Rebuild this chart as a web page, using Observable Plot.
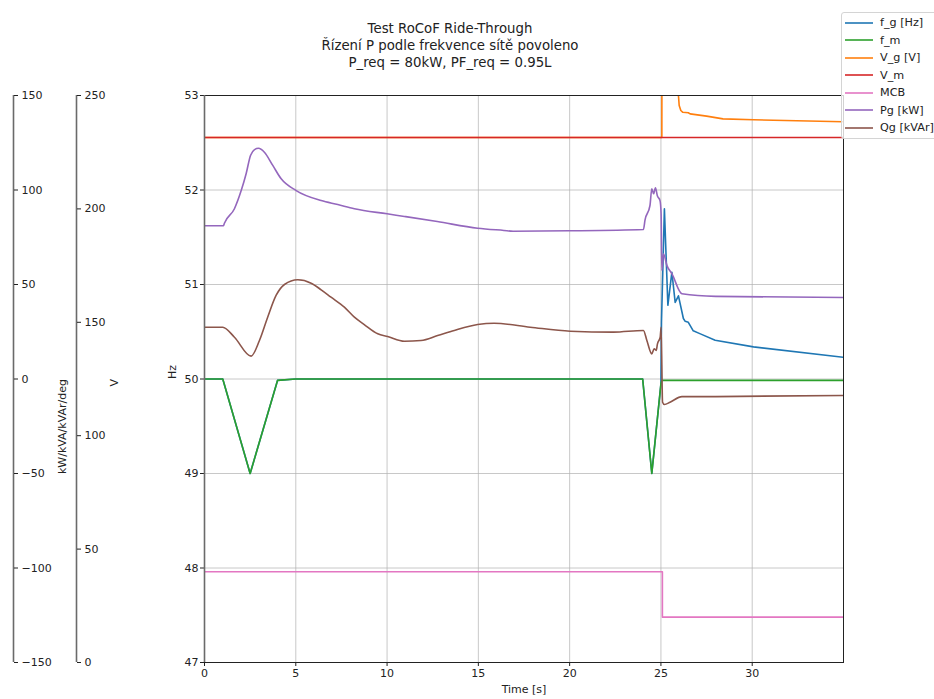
<!DOCTYPE html>
<html>
<head>
<meta charset="utf-8">
<script src="https://cdn.jsdelivr.net/npm/d3@7"></script>
<script src="https://cdn.jsdelivr.net/npm/@observablehq/plot@0.6"></script>
<style>
  body { margin: 0; background: #fff; }
  #chart { position: relative; width: 934px; height: 699px; overflow: hidden;
           font-family: "DejaVu Sans", sans-serif; color: #222; background: #fff; }
  #chart svg { position: absolute; left: 0; top: 0; }
  #title { position: absolute; left: 0; top: 20px; width: 900px; text-align: center;
           font-size: 13.3px; line-height: 17px; }
  #legend { position: absolute; left: 841px; top: 12px; width: 110px; padding: 1px 0 1px 0;
            border: 1px solid #d4d4d4; border-radius: 3px; background: rgba(255,255,255,0.8);
            font-size: 11.2px; z-index: 5; }
  #legend .row { height: 17.5px; display: flex; align-items: center; }
  #legend svg { position: static; margin: 0 7px 0 3px; }
</style>
</head>
<body>
<div id="chart">
  <div id="title"></div>
  <div id="legend"></div>
</div>
<script>
// ---- titles ----
const titleLines = ["Test RoCoF Ride-Through", "Řízení P podle frekvence sítě povoleno", "P_req = 80kW, PF_req = 0.95L"];

// ---- axis ticks ----
const timeTicks = [0, 5, 10, 15, 20, 25, 30];
const hzTicks = [47, 48, 49, 50, 51, 52, 53];
const voltTicks = [0, 50, 100, 150, 200, 250];
const powerTicks = [-150, -100, -50, 0, 50, 100, 150];

// ---- series: grid frequency f_g [Hz] ----
const fgTime = [0, 1.0, 2.5, 4.0, 5.0, 24.0, 24.5, 24.7, 25.0, 25.03, 25.19, 25.38, 25.6, 25.78, 25.96, 26.23, 26.33, 26.5, 26.77, 27.13, 27.97, 30.07, 35];
const fgHz   = [50, 50, 49.0, 49.985, 50, 50, 49.0, 49.38, 49.95, 50.6, 51.8, 50.78, 51.13, 50.81, 50.88, 50.64, 50.61, 50.6, 50.51, 50.48, 50.41, 50.34, 50.23];

// ---- series: measured frequency f_m [Hz] ----
const fmTime = [0, 1.0, 2.5, 4.0, 5.0, 24.0, 24.5, 24.7, 25.0, 25.05, 35];
const fmHz   = [50, 50, 49.0, 49.985, 50, 50, 49.0, 49.38, 49.95, 49.985, 49.985];

// ---- series: grid voltage V_g [V] ----
const vgTime = [0, 25.05, 25.06, 25.9, 25.96, 26.0, 26.09, 26.2, 26.5, 26.6, 27.5, 28.4, 30.07, 35];
const vgVolt = [231.5, 231.5, 320, 280, 250, 245.6, 243.4, 242.6, 242.4, 241.9, 240.9, 239.7, 239.3, 238.4];

// ---- series: measured voltage V_m [V] ----
const vmTime = [0, 35];
const vmVolt = [231.5, 231.5];

// ---- series: MCB state (plotted on the voltage axis) ----
const mcbTime = [0, 25.08, 35];
const mcbLevel = [40, 20, 20];

// ---- series: active power Pg [kW] ----
const pgTime = [0, 1.04, 1.09, 1.64, 2.01, 2.28, 2.52, 2.74, 2.96, 3.28, 3.74, 4.2, 5.02, 6.39, 7.3, 8.21, 10.0, 10.95, 12.75, 14.96, 16.4, 16.9, 20, 24.04, 24.13, 24.4, 24.5, 24.6, 24.7, 24.8, 24.95, 25.01, 25.05, 25.14, 25.33, 25.6, 26.15, 28, 35];
const pgKW   = [81.1, 81.1, 82.4, 90.1, 99.7, 108.6, 118.3, 121.4, 122.1, 120.0, 113.0, 105.9, 99.7, 94.4, 92.3, 90.1, 87.4, 86.0, 83.3, 79.8, 78.6, 78.2, 78.4, 79.1, 84.2, 91.8, 100.6, 98.0, 101.2, 97.1, 94.4, 87.4, 57.4, 66.2, 60.0, 55.7, 45.1, 43.7, 43.1];

// ---- series: reactive power Qg [kVAr] ----
const qgTime = [0, 1.0, 1.64, 2.55, 3.01, 3.46, 3.92, 4.38, 5.11, 5.84, 6.39, 6.93, 7.66, 8.21, 8.75, 9.49, 10.03, 10.95, 11.86, 12.77, 13.68, 14.96, 15.86, 17.84, 20.03, 22.4, 24.04, 24.23, 24.5, 24.63, 24.74, 24.81, 24.96, 25.01, 25.09, 25.19, 25.5, 26.15, 28, 35];
const qgKVAr = [27.4, 27.4, 22.1, 12.1, 20.4, 32.7, 44.2, 50.0, 52.5, 50.7, 47.2, 43.3, 38.0, 32.7, 28.8, 23.9, 22.5, 20.0, 20.4, 23.0, 25.7, 28.8, 29.5, 27.4, 25.3, 24.8, 25.7, 20.4, 13.3, 16.0, 15.1, 18.6, 22.1, 27.4, -12.3, -13.5, -12.3, -9.3, -9.3, -8.7];

// ---- legend ----
const legendLabels = ["f_g [Hz]", "f_m", "V_g [V]", "V_m", "MCB", "Pg [kW]", "Qg [kVAr]"];
const legendColors = ["#1f77b4", "#2ca02c", "#ff7f0e", "#d62728", "#e377c2", "#9467bd", "#8c564b"];

const rows = (ts, vs) => ts.map((t, i) => ({t, v: vs[i]}));
const W = 934, H = 699;
const frame = {width: W, height: H, marginLeft: 204, marginRight: 91, marginTop: 95, marginBottom: 37};
const style = {fontFamily: '"DejaVu Sans", sans-serif', fontSize: "11px", background: "transparent", color: "#222", overflow: "visible"};
const lw = 1.6;
const minus = d => d < 0 ? "\u2212" + Math.abs(d) : String(d);

const chart = document.getElementById("chart");
document.getElementById("title").innerHTML = titleLines.map(s => `<div>${s}</div>`).join("");

// frequency axes, grid and frequency traces
const hzLayer = Plot.plot({
  ...frame, style,
  x: {domain: [0, 35]},
  y: {domain: [47, 53]},
  marks: [
    Plot.gridX({ticks: timeTicks.slice(1), stroke: "#b0b0b0", strokeOpacity: 0.7, strokeWidth: 1}),
    Plot.gridY({ticks: hzTicks.slice(1, -1), stroke: "#b0b0b0", strokeOpacity: 0.7, strokeWidth: 1}),
    Plot.axisX({ticks: timeTicks, tickFormat: minus, tickSize: 4, tickPadding: 3, label: null, stroke: "#222"}),
    Plot.axisY({ticks: hzTicks, tickFormat: minus, tickSize: 4, tickPadding: 2, label: null, stroke: "#222"}),
    Plot.text(["Time [s]"], {text: d => d, frameAnchor: "bottom", dy: 30, fontSize: 11}),
    Plot.text(["Hz"], {text: d => d, frameAnchor: "left", dx: -32, rotate: -90, fontSize: 11}),
    Plot.line(rows(fgTime, fgHz), {x: "t", y: "v", stroke: legendColors[0], strokeWidth: lw, clip: true}),
    Plot.line(rows(fmTime, fmHz), {x: "t", y: "v", stroke: legendColors[1], strokeWidth: lw, clip: true})
  ]
});

// voltage and MCB traces
const voltLayer = Plot.plot({
  ...frame, style,
  x: {domain: [0, 35], axis: null},
  y: {domain: [0, 250], axis: null},
  marks: [
    Plot.line(rows(vgTime, vgVolt), {x: "t", y: "v", stroke: legendColors[2], strokeWidth: lw, clip: true}),
    Plot.line(rows(vmTime, vmVolt), {x: "t", y: "v", stroke: legendColors[3], strokeWidth: lw, clip: true}),
    Plot.line(rows(mcbTime, mcbLevel), {x: "t", y: "v", stroke: legendColors[4], strokeWidth: lw, curve: "step-after", clip: true})
  ]
});

// power traces and the outer frame
const powerLayer = Plot.plot({
  ...frame, style,
  x: {domain: [0, 35], axis: null},
  y: {domain: [-150, 150], axis: null},
  marks: [
    Plot.line(rows(pgTime, pgKW), {x: "t", y: "v", stroke: legendColors[5], strokeWidth: lw, curve: "monotone-x", clip: true}),
    Plot.line(rows(qgTime, qgKVAr), {x: "t", y: "v", stroke: legendColors[6], strokeWidth: lw, curve: "monotone-x", clip: true}),
    Plot.frame({stroke: "#222", strokeWidth: 1}),
    Plot.ruleX([0], {stroke: "#6a6a6a", strokeWidth: 1.6})
  ]
});

// offset voltage axis (ticks to the right of its spine)
const voltAxis = Plot.plot({
  width: W, height: H, marginLeft: 0, marginRight: W - 76, marginTop: 95, marginBottom: 37, style,
  x: {domain: [0, 1], axis: null},
  y: {domain: [0, 250]},
  marks: [
    Plot.ruleX([1], {y1: 0, y2: 250, stroke: "#6a6a6a", strokeWidth: 1.6}),
    Plot.axisY({anchor: "right", ticks: voltTicks, tickFormat: minus, tickSize: 4, tickPadding: 4, label: null, stroke: "#222"}),
    Plot.text(["V"], {text: d => d, frameAnchor: "right", dx: 38, rotate: -90, fontSize: 11})
  ]
});

// offset power axis
const powerAxis = Plot.plot({
  width: W, height: H, marginLeft: 0, marginRight: W - 13, marginTop: 95, marginBottom: 37, style,
  x: {domain: [0, 1], axis: null},
  y: {domain: [-150, 150]},
  marks: [
    Plot.ruleX([1], {y1: -150, y2: 150, stroke: "#6a6a6a", strokeWidth: 1.6}),
    Plot.axisY({anchor: "right", ticks: powerTicks, tickFormat: minus, tickSize: 4, tickPadding: 4, label: null, stroke: "#222"}),
    Plot.text(["kW/kVA/kVAr/deg"], {text: d => d, frameAnchor: "right", dx: 49, rotate: -90, fontSize: 11})
  ]
});

for (const svg of [powerAxis, voltAxis, hzLayer, voltLayer, powerLayer]) chart.appendChild(svg);

// legend with line swatches
const legend = document.getElementById("legend");
legendLabels.forEach((label, i) => {
  const row = document.createElement("div");
  row.className = "row";
  row.innerHTML = `<svg width="28" height="4"><line x1="0" y1="2" x2="28" y2="2" stroke="${legendColors[i]}" stroke-width="${lw}"/></svg><span>${label}</span>`;
  legend.appendChild(row);
});
</script>
</body>
</html>
